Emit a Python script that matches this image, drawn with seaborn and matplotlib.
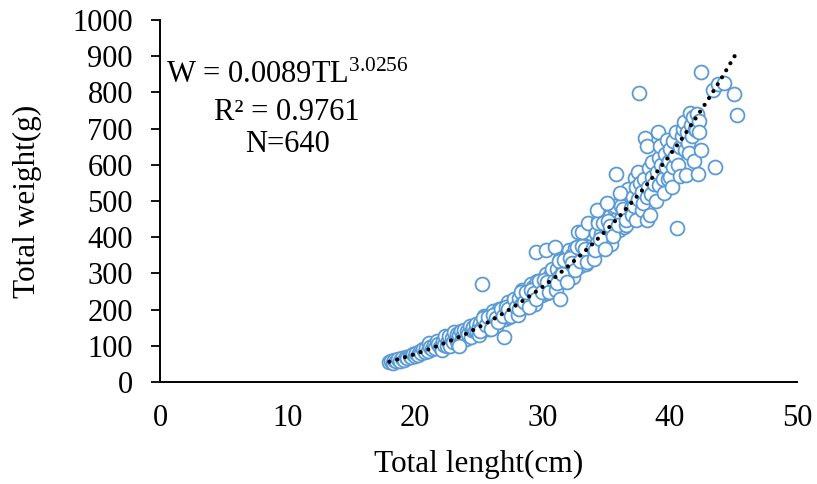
import matplotlib
matplotlib.use("Agg")
import matplotlib.pyplot as plt
import seaborn as sns
import pandas as pd

# ---- data: total length (cm) / total weight (g), by length band ----
tl_18_22 = [17.95, 18.1, 18.25, 18.4, 18.55, 18.7, 18.8, 19.0, 19.15, 19.3,
            19.4, 19.6, 19.7, 19.85, 20.0, 20.1, 20.25, 20.4, 20.5, 20.65,
            20.8, 20.9, 21.05, 21.15, 21.2, 21.35, 21.5, 21.6, 21.75, 21.8, 21.95]
w_18_22 = [54, 58, 53, 60, 57, 63, 59, 66, 62, 70,
           65, 73, 68, 77, 72, 81, 75, 86, 79, 90,
           83, 93, 86, 109, 97, 90, 102, 93, 114, 105, 97]

tl_22_25 = [22.1, 22.2, 22.3, 22.4, 22.5, 22.6, 22.7, 22.8, 22.9, 23.0,
            23.1, 23.2, 23.3, 23.4, 23.5, 23.6, 23.7, 23.8, 23.9, 24.0,
            24.1, 24.2, 24.3, 24.4, 24.5, 24.6, 24.7, 24.8, 24.9, 25.0, 23.5]
w_22_25 = [88, 113, 103, 126, 99, 113, 126, 100, 121, 110,
           137, 119, 132, 105, 129, 141, 119, 131, 143, 120,
           141, 132, 154, 125, 145, 153, 140, 161, 137, 151, 100]

tl_25_28 = [25.05, 25.15, 25.3, 25.4, 25.5, 25.6, 25.7, 25.8, 25.9, 26.0,
            26.1, 26.2, 26.3, 26.4, 26.5, 26.6, 26.7, 26.8, 26.9, 27.05,
            27.1, 27.2, 27.3, 27.4, 27.5, 27.6, 27.7, 27.8, 27.9, 28.0,
            25.1, 25.35, 25.55, 25.75, 25.95, 26.15, 26.35, 26.55, 26.75, 26.95,
            27.15, 27.35, 27.55, 27.75, 27.95, 25.25, 27.0]
w_25_28 = [130, 164, 151, 181, 146, 164, 181, 147, 175, 160,
           196, 173, 189, 154, 185, 201, 172, 188, 205, 175,
           201, 189, 220, 180, 206, 216, 199, 227, 195, 213,
           142, 177, 157, 179, 146, 184, 177, 165, 203, 182,
           206, 203, 183, 230, 206, 272, 124]

tl_28_31 = [28.1, 28.2, 28.3, 28.4, 28.5, 28.6, 28.7, 28.8, 28.9, 29.0,
            29.1, 29.2, 29.3, 29.4, 29.5, 29.6, 29.7, 29.8, 29.9, 30.0,
            30.1, 30.2, 30.3, 30.4, 30.5, 30.6, 30.7, 30.8, 30.9, 31.0,
            28.15, 28.35, 28.55, 28.75, 28.95, 29.15, 29.35, 29.55, 29.75, 29.95,
            30.15, 30.35, 30.55, 30.75, 30.95, 29.5, 30.3, 31.0]
w_28_31 = [186, 231, 214, 253, 206, 230, 252, 206, 245, 224,
           271, 240, 262, 215, 255, 278, 238, 259, 280, 240,
           276, 259, 299, 245, 280, 294, 270, 307, 265, 289,
           203, 248, 221, 250, 206, 255, 246, 229, 280, 250,
           282, 276, 249, 311, 280, 358, 365, 374]

tl_31_34 = [31.1, 31.2, 31.3, 31.4, 31.5, 31.6, 31.7, 31.8, 31.9, 32.0,
            32.1, 32.2, 32.3, 32.4, 32.5, 32.6, 32.7, 32.8, 32.9, 33.0,
            33.1, 33.2, 33.3, 33.4, 33.5, 33.6, 33.7, 33.8, 33.9, 34.0,
            31.15, 31.35, 31.55, 31.75, 31.95, 32.15, 32.35, 32.55, 32.75, 32.95,
            33.15, 33.35, 33.55, 33.75, 33.95, 31.4, 32.8, 33.1, 33.6]
w_31_34 = [254, 312, 290, 341, 279, 311, 339, 279, 329, 302,
           364, 323, 351, 289, 342, 371, 320, 346, 374, 321,
           368, 346, 398, 327, 372, 390, 358, 408, 353, 383,
           274, 335, 299, 336, 277, 342, 329, 309, 374, 333,
           376, 367, 332, 412, 370, 228, 415, 415, 439]

tl_34_37 = [34.1, 34.2, 34.3, 34.4, 34.5, 34.6, 34.7, 34.8, 34.9, 35.0,
            35.1, 35.2, 35.3, 35.4, 35.5, 35.6, 35.7, 35.8, 35.9, 36.0,
            36.1, 36.2, 36.3, 36.4, 36.5, 36.6, 36.7, 36.8, 36.9, 37.0,
            34.15, 34.35, 34.55, 34.75, 34.95, 35.15, 35.35, 35.55, 35.75, 35.95,
            36.15, 36.35, 36.55, 36.75, 36.95, 34.3, 35.1, 36.1, 36.6, 35.8]
w_34_37 = [339, 411, 383, 446, 369, 409, 443, 369, 430, 397,
           474, 422, 458, 381, 446, 482, 418, 451, 485, 419,
           477, 450, 514, 427, 483, 505, 465, 526, 457, 495,
           365, 439, 394, 440, 367, 446, 431, 404, 485, 435,
           487, 477, 433, 532, 480, 475, 494, 521, 447, 575]

tl_37_46 = [37.05, 37.1, 37.2, 37.3, 37.35, 37.4, 37.5, 37.55, 37.6, 37.7,
            37.8, 37.85, 37.9, 38.0, 38.1, 38.2, 38.2, 38.25, 38.3, 38.4,
            38.5, 38.55, 38.6, 38.65, 38.8, 38.9, 39.0, 39.1, 39.15, 39.2,
            39.25, 39.35, 39.45, 39.55, 39.6, 39.7, 39.8, 39.85, 39.95, 40.0,
            40.05, 40.2, 40.25, 40.3, 40.4, 40.5, 40.6, 40.65, 40.8, 40.85,
            40.95, 41.05, 41.1, 41.2, 41.3, 41.35, 41.45, 41.5, 41.6, 41.65,
            41.75, 41.8, 41.9, 42.0, 42.1, 42.15, 42.2, 42.3, 42.5, 42.5,
            42.3, 43.4, 43.6, 43.8, 44.3, 45.05, 45.3]
w_37_46 = [460, 512, 485, 563, 540, 447, 581, 505, 797, 549,
           475, 525, 494, 560, 674, 652, 512, 447, 540, 590,
           461, 520, 567, 609, 548, 500, 580, 691, 620, 544,
           652, 600, 560, 521, 630, 595, 668, 560, 610, 567,
           645, 540, 595, 665, 625, 690, 425, 600, 650, 570,
           680, 700, 719, 640, 572, 690, 660, 632, 744, 710,
           680, 732, 610, 700, 696, 740, 575, 720, 641, 855,
           690, 807, 595, 822, 827, 795, 738]

# power trendline (W = 0.0089 TL^3.0256) read at whole centimetres
trend_x = [18, 19, 20, 21, 22, 23, 24, 25, 26, 27, 28, 29, 30, 31, 32,
           33, 34, 35, 36, 37, 38, 39, 40, 41, 42, 43, 44, 45, 45.3]
trend_y = [56, 66, 77, 89, 103, 117, 133, 151, 170, 191, 213, 237, 262, 289, 319,
           350, 383, 418, 455, 495, 536, 580, 626, 674, 726, 779, 835, 894, 912]

x_ticks = [0, 10, 20, 30, 40, 50]
y_ticks = [0, 100, 200, 300, 400, 500, 600, 700, 800, 900, 1000]
equation_lines = ["W = 0.0089TL$^{3.0256}$", "R² = 0.9761", "N=640"]

sns.set_theme(style="white")
plt.rcParams["font.family"] = ["Liberation Serif", "DejaVu Serif"]
plt.rcParams["mathtext.fontset"] = "custom"
plt.rcParams["mathtext.rm"] = "Liberation Serif"
plt.rcParams["mathtext.it"] = "Liberation Serif:italic"
for key in ("text.color", "axes.labelcolor", "xtick.color", "ytick.color"):
    plt.rcParams[key] = "black"

bands_tl = [tl_18_22, tl_22_25, tl_25_28, tl_28_31, tl_31_34, tl_34_37, tl_37_46]
bands_w = [w_18_22, w_22_25, w_25_28, w_28_31, w_31_34, w_34_37, w_37_46]
df = pd.concat([pd.DataFrame({"TL": t, "W": w}) for t, w in zip(bands_tl, bands_w)],
               ignore_index=True)
tr = pd.DataFrame({"TL": trend_x, "W": trend_y})

fig = plt.figure(figsize=(8.17, 4.84), dpi=100)
ax = fig.add_axes([160 / 817, 1 - 382 / 484, (797 - 160) / 817, (382 - 20) / 484])

sns.scatterplot(data=df, x="TL", y="W", ax=ax, s=100, facecolor="white",
                edgecolor="#5B9BD5", linewidth=1.3, zorder=3, legend=False)
sns.lineplot(data=tr, x="TL", y="W", ax=ax, color="black", linewidth=3.0,
             zorder=4, legend=False)
line = ax.lines[-1]
line.set_dashes((0.01, 1.95))
line.set_dash_capstyle("round")

ax.set_xlim(0, 50)
ax.set_ylim(0, 1000)
ax.set_xticks(x_ticks)
ax.set_yticks(y_ticks)
ax.set_xticklabels([str(v) for v in x_ticks])
ax.set_yticklabels([str(v) for v in y_ticks])
ax.tick_params(axis="y", which="major", direction="out", length=6.5, width=1.3,
               pad=13, labelsize=22, color="black", left=True)
ax.tick_params(axis="x", which="major", length=0, pad=16, labelsize=22)

for side in ("top", "right"):
    ax.spines[side].set_visible(False)
for side in ("left", "bottom"):
    ax.spines[side].set_color("black")
    ax.spines[side].set_linewidth(1.4)

ax.set_xlabel("Total lenght(cm)", fontsize=22.5, labelpad=12)
ax.set_ylabel("Total weight(g)", fontsize=22.5, labelpad=22)

baselines_px = [83, 120, 152]
for txt, yb in zip(equation_lines, baselines_px):
    ax.text(287 / 817, 1 - yb / 484, txt, transform=fig.transFigure,
            ha="center", va="baseline", fontsize=22)

ax.grid(False)
fig.savefig("out.png", dpi=100, facecolor="white")
